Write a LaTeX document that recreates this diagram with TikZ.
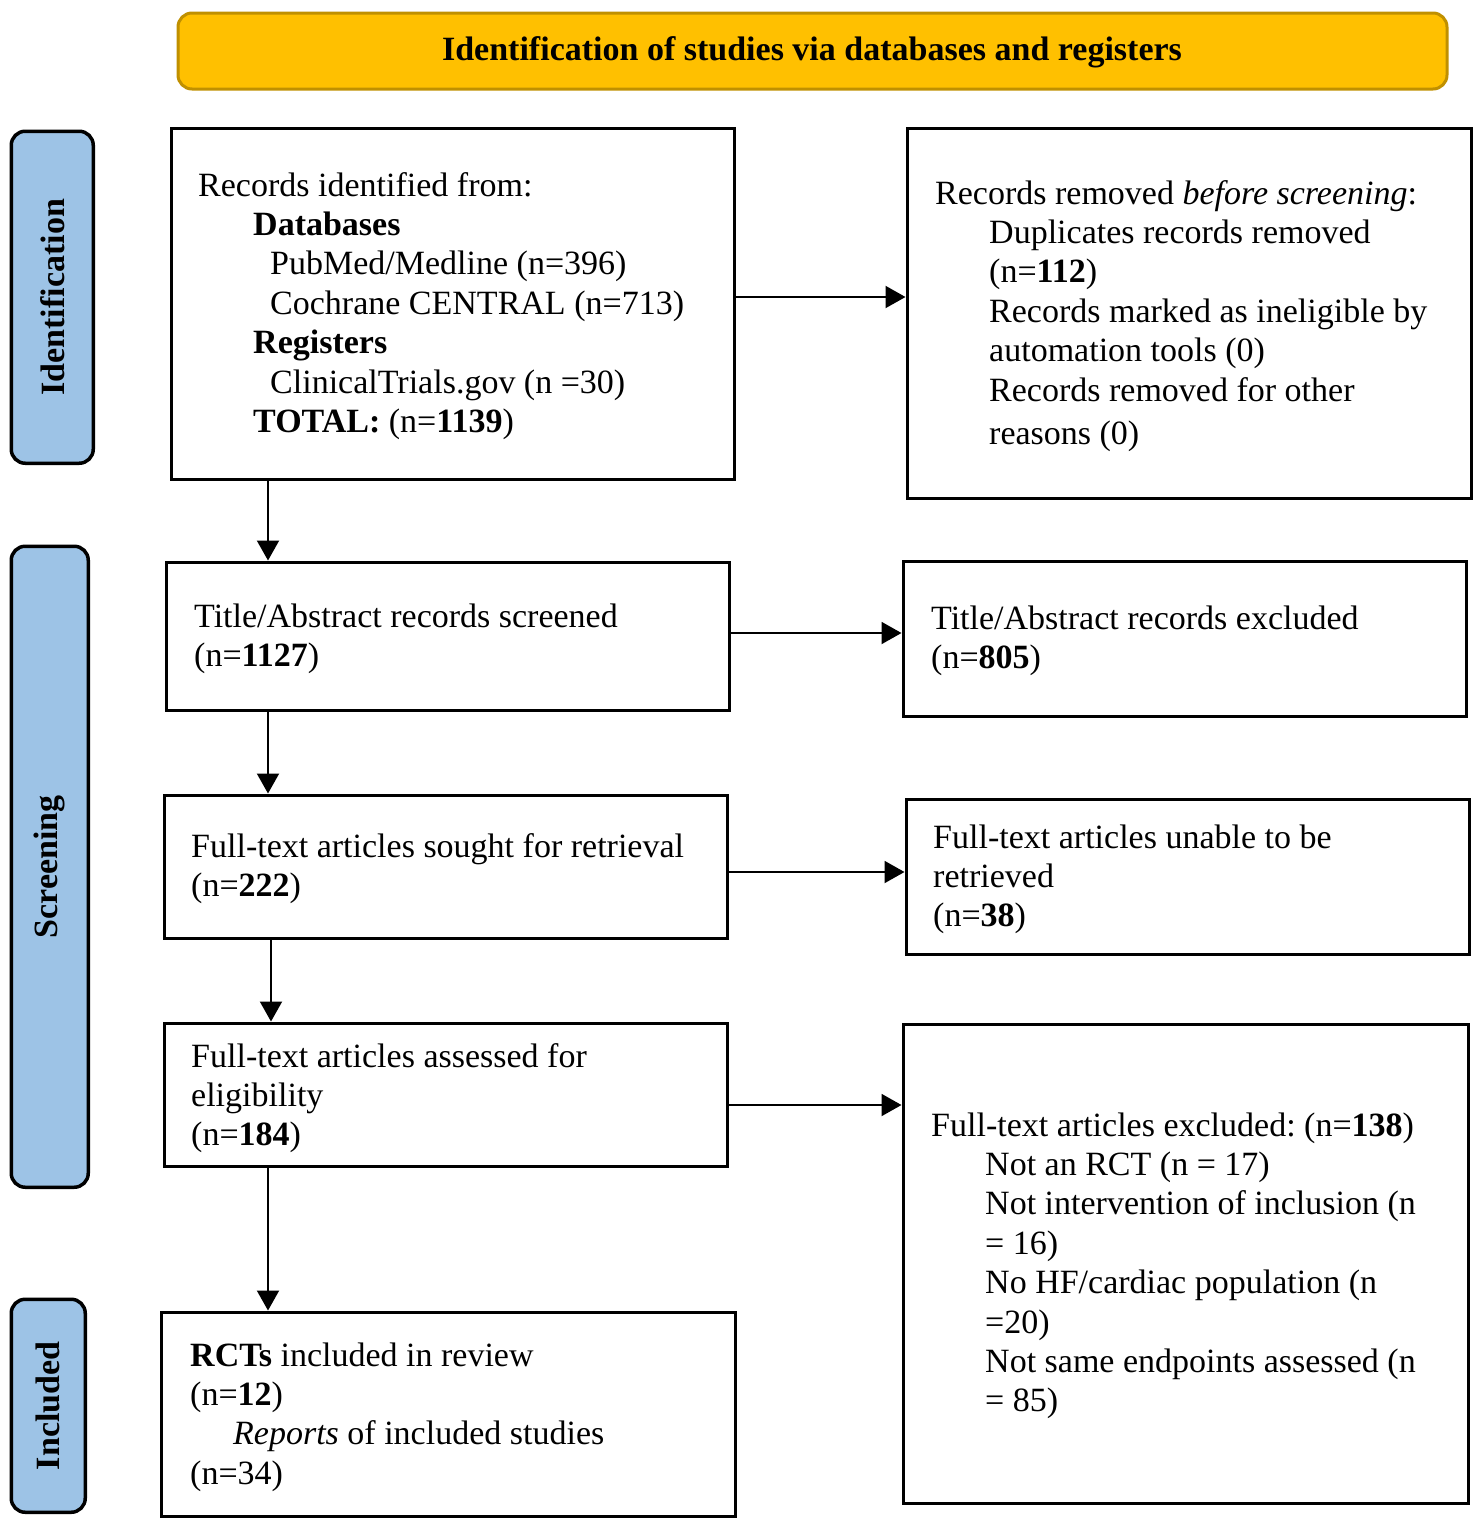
\documentclass[tikz,border=0pt]{standalone}
\usepackage{fontspec}
\setmainfont{Liberation Serif}
\usetikzlibrary{arrows.meta}
\definecolor{hdrfill}{HTML}{FFC000}
\definecolor{hdrdraw}{HTML}{C09000}
\definecolor{sidefill}{HTML}{9DC3E6}
\frenchspacing
\begin{document}
\begin{tikzpicture}[x=1pt,y=-1pt,
  box/.style={draw=black,line width=3.5pt,fill=white,anchor=north west,inner sep=0pt},
  hdr/.style={draw=hdrdraw,line width=3pt,fill=hdrfill,rounded corners=14pt,anchor=north west,inner sep=0pt},
  side/.style={draw=black,line width=3.5pt,fill=sidefill,rounded corners=14pt,anchor=north west,inner sep=0pt},
  txt/.style={anchor=north west,inner sep=0pt,align=left,font=\fontsize{34}{39.4}\selectfont\frenchspacing},
  sidetxt/.style={rotate=90,inner sep=0pt,font=\fontsize{34}{39.4}\selectfont\bfseries},
  arr/.style={line width=2pt,-{Triangle[length=20pt,width=22pt]}}
]
\useasboundingbox (0,0) rectangle (1479,1521);

% header
\node[hdr,minimum width=1269pt,minimum height=76pt] (hdr) at (176.5,11.5) {};
\node[inner sep=0pt,font=\fontsize{34}{39.4}\selectfont\bfseries] (hdrtxt) at (812,52) {Identification of studies via databases and registers};

% side labels
\node[side,minimum width=82pt,minimum height=332pt] (sid) at (9.5,129.5) {};
\node[sidetxt] (sidt) at (sid.center) {Identification};
\node[side,minimum width=77pt,minimum height=641pt] (ssc) at (9.5,544.5) {};
\node[sidetxt] (ssct) at (ssc.center) {Screening};
\node[side,minimum width=74pt,minimum height=213pt] (sin) at (9.5,1297.5) {};
\node[sidetxt] (sint) at (sin.center) {Included};

% boxes
\node[box,minimum width=563pt,minimum height=351pt] (b1) at (169.5,126.5) {};
\node[box,minimum width=564pt,minimum height=370pt] (r1) at (905.5,126.5) {};
\node[box,minimum width=563pt,minimum height=148pt] (b2) at (164.5,560.5) {};
\node[box,minimum width=563pt,minimum height=155pt] (r2) at (901.5,559.5) {};
\node[box,minimum width=563pt,minimum height=143pt] (b3) at (162.5,793.5) {};
\node[box,minimum width=563pt,minimum height=155pt] (r3) at (904.5,797.5) {};
\node[box,minimum width=563pt,minimum height=143pt] (b4) at (162.5,1021.5) {};
\node[box,minimum width=565pt,minimum height=479pt] (r4) at (901.5,1022.5) {};
\node[box,minimum width=574pt,minimum height=204pt] (b5) at (159.5,1310.5) {};

% texts (node top = first baseline - 27.6)
\node[txt] (t1) at (198,168.4) {\strut Records identified from:\\
\hspace*{55pt}\textbf{Databases}\\
\hspace*{72pt}PubMed/Medline (n=396)\\
\hspace*{72pt}Cochrane CENTRAL (n=713)\\
\hspace*{55pt}\textbf{Registers}\\
\hspace*{72pt}ClinicalTrials.gov (n =30)\\
\hspace*{55pt}\textbf{TOTAL:} (n=\textbf{1139})};

\node[txt] (tr1) at (935,176.4) {\strut Records removed \textit{before screening}:\\
\hspace*{54pt}Duplicates records removed\\
\hspace*{54pt}(n=\textbf{112})\\
\hspace*{54pt}Records marked as ineligible by\\
\hspace*{54pt}automation tools (0)\\
\hspace*{54pt}Records removed for other\\[4pt]
\hspace*{54pt}reasons (0)};

\node[txt] (t2) at (194,599.4) {\strut Title/Abstract records screened\\(n=\textbf{1127})};
\node[txt] (tr2) at (931,601.4) {\strut Title/Abstract records excluded\\(n=\textbf{805})};
\node[txt] (t3) at (191,829.4) {\strut Full-text articles sought for retrieval\\(n=\textbf{222})};
\node[txt] (tr3) at (933,820.4) {\strut Full-text articles unable to be\\retrieved\\(n=\textbf{38})};
\node[txt] (t4) at (191,1039.4) {\strut Full-text articles assessed for\\eligibility\\(n=\textbf{184})};
\node[txt] (tr4) at (931,1108.4) {\strut Full-text articles excluded: (n=\textbf{138})\\
\hspace*{54pt}Not an RCT (n = 17)\\
\hspace*{54pt}Not intervention of inclusion (n\\
\hspace*{54pt}= 16)\\
\hspace*{54pt}No HF/cardiac population (n\\
\hspace*{54pt}=20)\\
\hspace*{54pt}Not same endpoints assessed (n\\
\hspace*{54pt}= 85)};
\node[txt] (t5) at (190,1338.4) {\strut\textbf{RCTs} included in review\\
(n=\textbf{12})\\
\hspace*{43pt}\textit{Reports} of included studies\\
(n=34)};

% arrow guide coordinates
\coordinate (h1) at (0,297);
\coordinate (h2) at (0,633);
\coordinate (h3) at (0,872);
\coordinate (h4) at (0,1105);
\coordinate (v1) at (268,0);
\coordinate (v3) at (271,0);

% horizontal arrows
\draw[arr] (b1.east |- h1) -- (r1.west |- h1);
\draw[arr] (b2.east |- h2) -- (r2.west |- h2);
\draw[arr] (b3.east |- h3) -- (r3.west |- h3);
\draw[arr] (b4.east |- h4) -- (r4.west |- h4);
% vertical arrows
\draw[arr] (b1.south -| v1) -- (b2.north -| v1);
\draw[arr] (b2.south -| v1) -- (b3.north -| v1);
\draw[arr] (b3.south -| v3) -- (b4.north -| v3);
\draw[arr] (b4.south -| v1) -- (b5.north -| v1);
\end{tikzpicture}
\end{document}
